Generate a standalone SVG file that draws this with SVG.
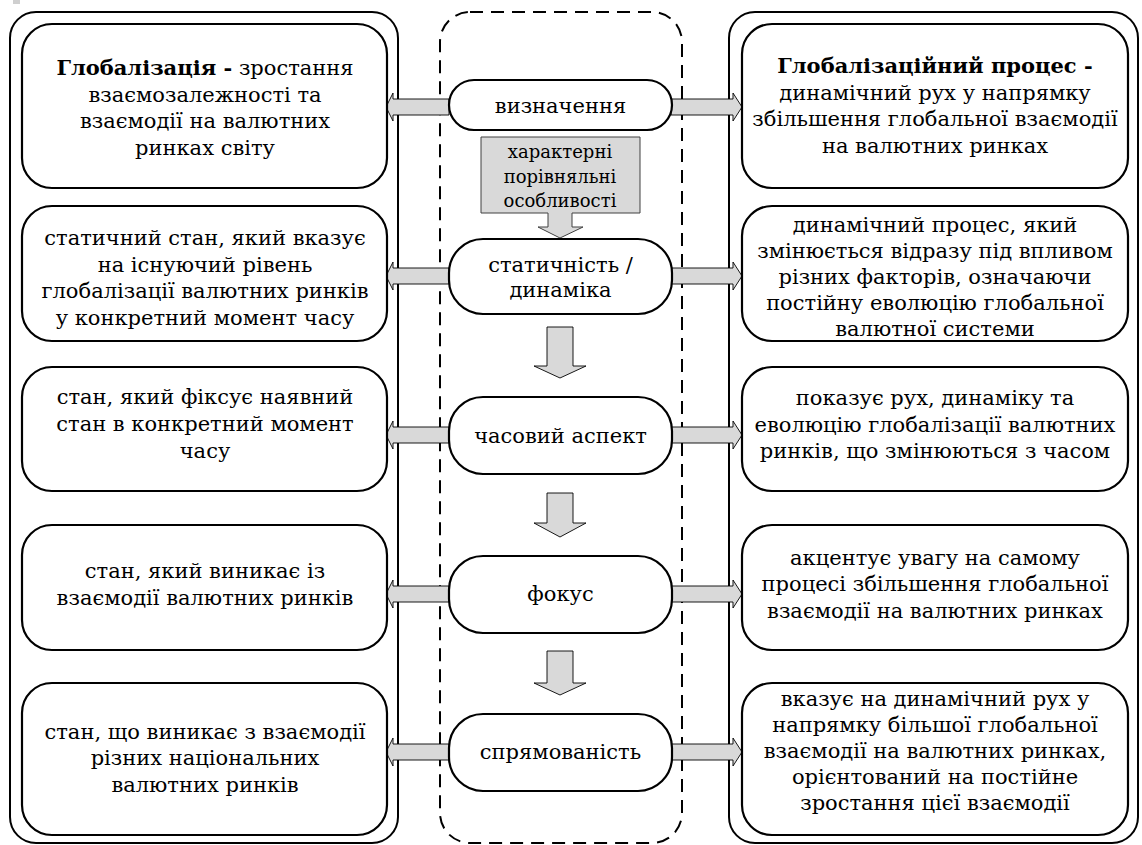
<svg xmlns="http://www.w3.org/2000/svg" width="1142" height="845" viewBox="0 0 1142 845">
<style>
.t{font-family:"DejaVu Serif","Liberation Serif",serif;font-size:21px;fill:#000;text-anchor:middle}
.sm{font-size:18px}
.outer{fill:none;stroke:#000;stroke-width:2}
.dash{fill:none;stroke:#000;stroke-width:2;stroke-dasharray:13 8}
.box{fill:#fff;stroke:#000;stroke-width:2.2}
.pill{fill:#fff;stroke:#000;stroke-width:2.2}
.arr{fill:#d9d9d9;stroke:#000;stroke-width:0.9}
.gray{fill:#d9d9d9;stroke:#404040;stroke-width:1}
.b{font-weight:bold}
</style>
<rect x="13" y="0" width="7" height="4" fill="#cfcfcf"/>
<g id="containers">
<rect class="outer" x="10" y="12" width="388" height="831" rx="26"/>
<rect class="dash" x="440" y="12" width="242" height="831" rx="30"/>
<rect class="outer" x="729" y="12" width="409" height="831" rx="26"/>
</g>
<g id="connectors">
<polygon class="arr" points="449,99 393,99 393,93 386,107 393,121 393,115 449,115"/>
<polygon class="arr" points="671,99 733,99 733,93 742,107 733,121 733,115 671,115"/>
<polygon class="arr" points="449,268 393,268 393,262 386,276 393,290 393,284 449,284"/>
<polygon class="arr" points="671,268 733,268 733,262 742,276 733,290 733,284 671,284"/>
<polygon class="arr" points="449,427 393,427 393,421 386,435 393,449 393,443 449,443"/>
<polygon class="arr" points="671,427 733,427 733,421 742,435 733,449 733,443 671,443"/>
<polygon class="arr" points="449,586 393,586 393,580 386,594 393,608 393,602 449,602"/>
<polygon class="arr" points="671,586 733,586 733,580 742,594 733,608 733,602 671,602"/>
<polygon class="arr" points="449,744 393,744 393,738 386,752 393,766 393,760 449,760"/>
<polygon class="arr" points="671,744 733,744 733,738 742,752 733,766 733,760 671,760"/>
<polygon class="arr" points="547,327 573,327 573,366 586,366 560,378 534,366 547,366"/>
<polygon class="arr" points="547,493 573,493 573,523 586,523 560,537 534,523 547,523"/>
<polygon class="arr" points="547,651 573,651 573,683 586,683 560,695 534,683 547,683"/>
</g>
<g id="n-callout">
<path class="gray" d="M481,137 H640 V213 H572 V227 H583 L560,238 L538,227 H548 V213 H481 Z"/>
<text class="t sm" x="560" y="158">характерні</text>
<text class="t sm" x="560" y="183">порівняльні</text>
<text class="t sm" x="560" y="207">особливості</text>
</g>
<g id="p1"><rect class="pill" x="449" y="80" width="223" height="50" rx="25"/><text class="t" x="560.5" y="113">визначення</text></g>
<g id="p2"><rect class="pill" x="449" y="239" width="223" height="75" rx="34"/><text class="t" x="560.5" y="272">статичність /</text><text class="t" x="560.5" y="297">динаміка</text></g>
<g id="p3"><rect class="pill" x="449" y="397" width="223" height="77" rx="34"/><text class="t" x="560.5" y="443">часовий аспект</text></g>
<g id="p4"><rect class="pill" x="449" y="556" width="223" height="77" rx="34"/><text class="t" x="560.5" y="601">фокус</text></g>
<g id="p5"><rect class="pill" x="449" y="714" width="223" height="77" rx="34"/><text class="t" x="560.5" y="759">спрямованість</text></g>
<g id="l1"><rect class="box" x="22" y="24" width="365" height="164" rx="30"/>
<text class="t" x="205" y="75"><tspan class="b">Глобалізація -</tspan> зростання</text>
<text class="t" x="205" y="102">взаємозалежності та</text>
<text class="t" x="205" y="128">взаємодії на валютних</text>
<text class="t" x="205" y="155">ринках світу</text></g>
<g id="l2"><rect class="box" x="22" y="206" width="365" height="135" rx="30"/>
<text class="t" x="205" y="245">статичний стан, який вказує</text>
<text class="t" x="205" y="272">на існуючий рівень</text>
<text class="t" x="205" y="298">глобалізації валютних ринків</text>
<text class="t" x="205" y="325">у конкретний момент часу</text></g>
<g id="l3"><rect class="box" x="22" y="367" width="365" height="124" rx="30"/>
<text class="t" x="205" y="404">стан, який фіксує наявний</text>
<text class="t" x="205" y="431">стан в конкретний момент</text>
<text class="t" x="205" y="458">часу</text></g>
<g id="l4"><rect class="box" x="22" y="525" width="365" height="125" rx="30"/>
<text class="t" x="205" y="578">стан, який виникає із</text>
<text class="t" x="205" y="605">взаємодії валютних ринків</text></g>
<g id="l5"><rect class="box" x="22" y="683" width="365" height="152" rx="30"/>
<text class="t" x="205" y="739">стан, що виникає з взаємодії</text>
<text class="t" x="205" y="765">різних національних</text>
<text class="t" x="205" y="792">валютних ринків</text></g>
<g id="r1"><rect class="box" x="742" y="24" width="386" height="164" rx="30"/>
<text class="t b" x="935" y="73">Глобалізаційний процес -</text>
<text class="t" x="935" y="100">динамічний рух у напрямку</text>
<text class="t" x="935" y="126">збільшення глобальної взаємодії</text>
<text class="t" x="935" y="153">на валютних ринках</text></g>
<g id="r2"><rect class="box" x="742" y="206" width="386" height="135" rx="30"/>
<text class="t" x="935" y="232">динамічний процес, який</text>
<text class="t" x="935" y="258">змінюється відразу під впливом</text>
<text class="t" x="935" y="284">різних факторів, означаючи</text>
<text class="t" x="935" y="310">постійну еволюцію глобальної</text>
<text class="t" x="935" y="336">валютної системи</text></g>
<g id="r3"><rect class="box" x="742" y="367" width="386" height="124" rx="30"/>
<text class="t" x="935" y="405">показує рух, динаміку та</text>
<text class="t" x="935" y="432">еволюцію глобалізації валютних</text>
<text class="t" x="935" y="458">ринків, що змінюються з часом</text></g>
<g id="r4"><rect class="box" x="742" y="525" width="386" height="125" rx="30"/>
<text class="t" x="935" y="565">акцентує увагу на самому</text>
<text class="t" x="935" y="591">процесі збільшення глобальної</text>
<text class="t" x="935" y="618">взаємодії на валютних ринках</text></g>
<g id="r5"><rect class="box" x="742" y="683" width="386" height="152" rx="30"/>
<text class="t" x="935" y="706">вказує на динамічний рух у</text>
<text class="t" x="935" y="732">напрямку більшої глобальної</text>
<text class="t" x="935" y="758">взаємодії на валютних ринках,</text>
<text class="t" x="935" y="784">орієнтований на постійне</text>
<text class="t" x="935" y="810">зростання цієї взаємодії</text></g>
</svg>
